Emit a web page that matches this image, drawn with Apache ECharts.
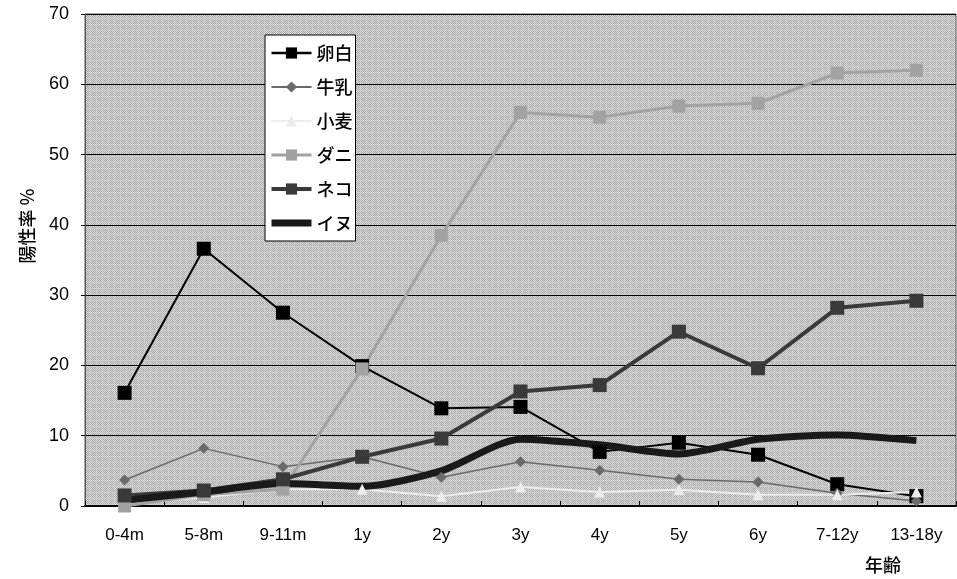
<!DOCTYPE html>
<html>
<head>
<meta charset="utf-8">
<script src="https://cdn.jsdelivr.net/npm/echarts@6/dist/echarts.min.js"></script>
<style>
  html, body { margin: 0; padding: 0; background: #ffffff; }
  #chart { width: 957px; height: 579px; }
</style>
</head>
<body>
<div id="chart"></div>
<script>
// Age groups along the x axis
const ageGroups = ['0-4m', '5-8m', '9-11m', '1y', '2y', '3y', '4y', '5y', '6y', '7-12y', '13-18y'];

// Positive rate (%) per allergen
const eggWhite = [16.1, 36.6, 27.5, 19.9, 13.9, 14.1, 7.7, 9.0, 7.3, 3.1, 1.4];
const milk     = [3.7, 8.2, 5.6, 7.0, 4.1, 6.3, 5.1, 3.8, 3.4, 1.8, 0.7];
const wheat    = [0.4, 1.2, 2.4, 2.4, 1.4, 2.7, 2.0, 2.3, 1.6, 1.6, 2.0];
const mite     = [0.0, 1.6, 2.4, 19.5, 38.5, 56.0, 55.3, 56.9, 57.3, 61.6, 62.0];
const cat      = [1.5, 2.2, 3.8, 7.0, 9.6, 16.3, 17.2, 24.8, 19.6, 28.2, 29.2];
const dog      = [0.8, 2.0, 3.2, 2.8, 5.0, 9.5, 8.7, 7.4, 9.5, 10.1, 9.3];

// Y axis range
const yMin = 0, yMax = 70, yStep = 10;

// Dithered grey fill for the plot area
function makePattern() {
  const c = document.createElement('canvas');
  c.width = 6; c.height = 6;
  const g = c.getContext('2d');
  for (let y = 0; y < 6; y++) {
    for (let x = 0; x < 6; x++) {
      let v = ((x + y) % 2 === 0) ? 0xa6 : 0xd8;
      if (x === 0 || y === 0) v = ((x + y) % 2 === 0) ? 0xbc : 0xde;
      g.fillStyle = 'rgb(' + v + ',' + v + ',' + v + ')';
      g.fillRect(x, y, 1, 1);
    }
  }
  return c;
}

const chart = echarts.init(document.getElementById('chart'), null, { renderer: 'canvas' });

const sansLatin = '"Liberation Sans", Arial, sans-serif';
const sansJP = '"Noto Sans CJK JP", sans-serif';

const option = {
  animation: false,
  backgroundColor: '#ffffff',
  grid: {
    left: 85, right: 1, top: 14, bottom: 73,
    show: true,
    backgroundColor: { image: makePattern(), repeat: 'repeat' },
    borderColor: '#555555',
    borderWidth: 1
  },
  legend: {
    orient: 'vertical',
    left: 265, top: 35,
    backgroundColor: '#ffffff',
    borderColor: '#000000',
    borderWidth: 1,
    padding: [9, 3, 9, 3],
    itemWidth: 40,
    itemHeight: 14,
    itemGap: 16,
    textStyle: { fontFamily: sansJP, fontSize: 18, lineHeight: 18, fontWeight: 500, color: '#000000' },
    data: [
      { name: '卵白', lineStyle: { width: 2.5 } },
      { name: '牛乳', lineStyle: { width: 2 } },
      { name: '小麦', lineStyle: { width: 2 } },
      { name: 'ダニ', lineStyle: { width: 3 } },
      { name: 'ネコ', lineStyle: { width: 4 } },
      { name: 'イヌ', lineStyle: { width: 7 }, itemStyle: { opacity: 0 } }
    ]
  },
  xAxis: {
    type: 'category',
    data: ageGroups,
    boundaryGap: true,
    axisLine: { lineStyle: { color: '#000000', width: 2 } },
    axisTick: { show: true, inside: true, length: 5, lineStyle: { color: '#000000' } },
    axisLabel: { color: '#000000', fontFamily: sansLatin, fontSize: 17, margin: 21 },
    splitLine: { show: false }
  },
  yAxis: {
    type: 'value',
    min: yMin, max: yMax, interval: yStep,
    axisLine: { show: true, lineStyle: { color: '#555555' } },
    axisTick: { show: true, length: 4, lineStyle: { color: '#000000' } },
    axisLabel: { color: '#000000', fontFamily: sansLatin, fontSize: 18, margin: 16 },
    splitLine: { show: true, lineStyle: { color: '#000000', width: 1 } }
  },
  graphic: [
    {
      type: 'text', x: 27, y: 226, rotation: Math.PI / 2,
      style: { text: '陽性率 %', fontFamily: sansJP, fontSize: 18, fontWeight: 500, fill: '#000000', align: 'center', verticalAlign: 'middle' }
    },
    {
      type: 'text', x: 883, y: 565,
      style: { text: '年齢', fontFamily: sansJP, fontSize: 18, fontWeight: 500, fill: '#000000', align: 'center', verticalAlign: 'middle' }
    }
  ],
  series: [
    {
      name: '卵白', type: 'line', data: eggWhite,
      symbol: 'rect', symbolSize: 14,
      lineStyle: { color: '#000000', width: 2 },
      itemStyle: { color: '#000000' }
    },
    {
      name: '牛乳', type: 'line', data: milk,
      symbol: 'diamond', symbolSize: 11,
      lineStyle: { color: '#6a6a6a', width: 1.5 },
      itemStyle: { color: '#6a6a6a' }
    },
    {
      name: '小麦', type: 'line', data: wheat,
      symbol: 'triangle', symbolSize: 11,
      lineStyle: { color: '#ececec', width: 2 },
      itemStyle: { color: '#ececec' }
    },
    {
      name: 'ダニ', type: 'line', data: mite,
      symbol: 'rect', symbolSize: 13,
      lineStyle: { color: '#a2a2a2', width: 3 },
      itemStyle: { color: '#a2a2a2' }
    },
    {
      name: 'ネコ', type: 'line', data: cat,
      symbol: 'rect', symbolSize: 14,
      lineStyle: { color: '#3a3a3a', width: 4 },
      itemStyle: { color: '#3a3a3a' }
    },
    {
      name: 'イヌ', type: 'line', data: dog,
      symbol: 'none', smooth: 0.25,
      lineStyle: { color: '#1a1a1a', width: 7 },
      itemStyle: { color: '#1a1a1a' }
    }
  ]
};

chart.setOption(option);
</script>
</body>
</html>
